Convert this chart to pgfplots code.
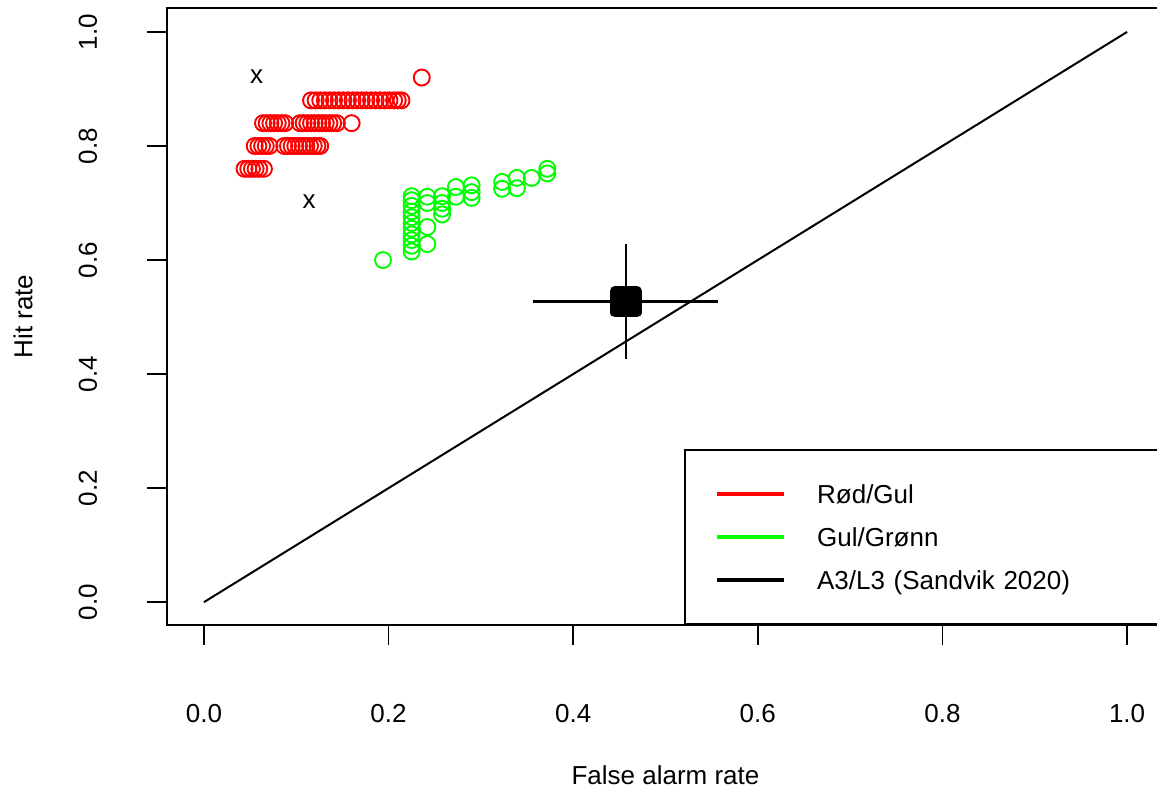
\documentclass[border=0pt]{standalone}
\usepackage{fontspec}
\setmainfont{Liberation Sans}
\usepackage{pgfplots}
\pgfplotsset{compat=1.18}
\newcommand{\fs}{\fontsize{13pt}{15pt}\selectfont}
\begin{document}
\begin{tikzpicture}
\begin{axis}[
  name=ax,
  scale only axis, width=498.5pt, height=308.5pt,
  xmin=-0.04, xmax=1.04, ymin=-0.04, ymax=1.042,
  axis line style={line width=0.9pt},
  tick pos=left, tick align=outside, major tick length=10pt,
  tick style={line width=0.9pt, black},
  xtick={0,0.2,0.4,0.6,0.8,1}, xticklabels={0.0,0.2,0.4,0.6,0.8,1.0},
  ytick={0,0.2,0.4,0.6,0.8,1}, yticklabels={0.0,0.2,0.4,0.6,0.8,1.0},
  tick label style={font=\fs, inner sep=0pt},
  xticklabel style={anchor=base},
  yticklabel style={rotate=90, anchor=base},
  xticklabel shift=39pt, yticklabel shift=25pt,
  label style={font=\fs},
  xlabel={False alarm rate}, ylabel={Hit rate},
  xlabel style={at={(axis description cs:0.5,-0.2431)}, anchor=center},
  ylabel style={at={(axis description cs:-0.1444,0.5)}, anchor=center},
  legend style={at={(0.5186,0)}, anchor=south west, draw=black, line width=0.9pt, fill=white,
    inner xsep=15pt, inner ysep=11.25pt, column sep=16pt, font=\fs,
    nodes={inner sep=0pt, text width=160.5pt, minimum height=21.5pt, text height=9.4pt, text depth=0pt, align=left}},
  legend cell align=left,
  legend image code/.code={\draw[mark=none, solid, line width=1.6pt] (0pt,0pt) -- (33.5pt,0pt);},
]
\addplot[black, line width=1pt, forget plot] coordinates {(0,0) (1,1)};
\addplot[red, only marks, mark=o, mark size=4pt, mark options={line width=0.95pt}] coordinates {
(0.236,0.92)
(0.116,0.88)(0.121,0.88)(0.126,0.88)(0.131,0.88)(0.136,0.88)(0.141,0.88)(0.146,0.88)
(0.151,0.88)(0.156,0.88)(0.161,0.88)(0.166,0.88)(0.171,0.88)(0.176,0.88)(0.181,0.88)
(0.186,0.88)(0.191,0.88)(0.196,0.88)(0.201,0.88)(0.206,0.88)(0.210,0.88)(0.214,0.88)
(0.064,0.84)(0.068,0.84)(0.072,0.84)(0.076,0.84)(0.080,0.84)(0.084,0.84)(0.088,0.84)
(0.104,0.84)(0.108,0.84)(0.112,0.84)(0.116,0.84)(0.120,0.84)(0.124,0.84)(0.128,0.84)
(0.132,0.84)(0.136,0.84)(0.140,0.84)(0.144,0.84)(0.160,0.84)
(0.055,0.80)(0.059,0.80)(0.063,0.80)(0.067,0.80)(0.071,0.80)
(0.087,0.80)(0.091,0.80)(0.095,0.80)(0.099,0.80)(0.103,0.80)(0.107,0.80)(0.111,0.80)
(0.115,0.80)(0.119,0.80)(0.123,0.80)(0.126,0.80)
(0.044,0.76)(0.048,0.76)(0.052,0.76)(0.056,0.76)(0.060,0.76)(0.065,0.76)
};
\addlegendentry{Rød/Gul}
\addplot[green, only marks, mark=o, mark size=4pt, mark options={line width=0.95pt}] coordinates {
(0.194,0.600)
(0.225,0.615)(0.225,0.625)(0.225,0.635)(0.225,0.645)(0.225,0.655)(0.225,0.665)
(0.225,0.675)(0.225,0.685)(0.225,0.695)(0.225,0.705)(0.225,0.712)
(0.242,0.711)(0.242,0.700)(0.242,0.658)(0.242,0.628)
(0.258,0.712)(0.258,0.700)(0.258,0.690)(0.258,0.680)
(0.273,0.728)(0.273,0.711)
(0.290,0.731)(0.290,0.719)(0.290,0.709)
(0.323,0.737)(0.323,0.725)
(0.339,0.744)(0.339,0.726)
(0.355,0.744)
(0.372,0.760)(0.372,0.752)
};
\addlegendentry{Gul/Grønn}
\addplot[black, only marks, mark=text, text mark={\fontsize{13pt}{15pt}\selectfont x}, forget plot] coordinates {(0.057,0.921) (0.114,0.702)};
\addplot[black, line width=1.6pt] coordinates {(0.356,0.527) (0.557,0.527)};
\addlegendentry{A3/L3 (Sandvik 2020)}
\addplot[black, line width=0.9pt, forget plot] coordinates {(0.457,0.426) (0.457,0.628)};
\addplot[black, only marks, mark=square*, mark size=5.4pt, mark options={line width=5pt, line join=round, fill=black, draw=black}, forget plot] coordinates {(0.457,0.527)};
\end{axis}
\pgfresetboundingbox
\path[use as bounding box] ([shift={(-83.5pt,-82.5pt)}]ax.south west) rectangle ([shift={(495pt,312.5pt)}]ax.south west);
\end{tikzpicture}
\end{document}
